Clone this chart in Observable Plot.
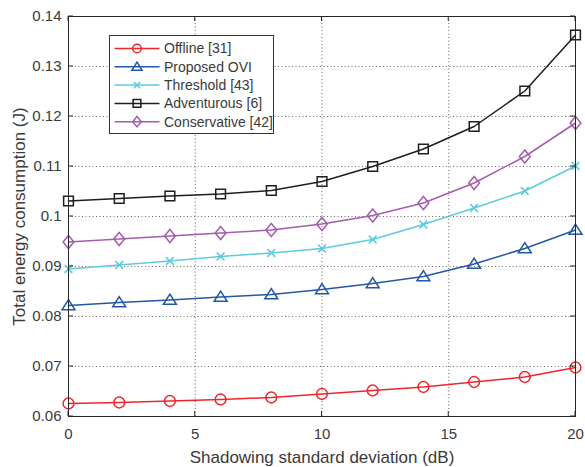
<!DOCTYPE html>
<html><head><meta charset="utf-8">
<script src="https://cdn.jsdelivr.net/npm/d3@7"></script>
<script src="https://cdn.jsdelivr.net/npm/@observablehq/plot@0.6"></script>
<style>body{margin:0;background:#fff}</style>
</head><body><div id="chart"></div>
<script>
// ---- data ----
const sigma = [0, 2, 4, 6, 8, 10, 12, 14, 16, 18, 20];
const offline      = [0.0626, 0.0628, 0.0631, 0.0634, 0.0638, 0.0645, 0.0652, 0.0659, 0.0669, 0.0679, 0.0698];
const proposedOVI  = [0.0822, 0.0828, 0.0833, 0.0839, 0.0844, 0.0854, 0.0866, 0.0880, 0.0905, 0.0936, 0.0973];
const threshold    = [0.0895, 0.0903, 0.0911, 0.0920, 0.0927, 0.0936, 0.0954, 0.0984, 0.1017, 0.1051, 0.1101];
const adventurous  = [0.1031, 0.1036, 0.1041, 0.1045, 0.1052, 0.1070, 0.1100, 0.1135, 0.1180, 0.1251, 0.1363];
const conservative = [0.0949, 0.0955, 0.0961, 0.0967, 0.0973, 0.0985, 0.1002, 0.1027, 0.1067, 0.1120, 0.1187];
const seriesNames  = ["Offline [31]", "Proposed OVI", "Threshold [43]", "Adventurous [6]", "Conservative [42]"];
const xTicks = [0, 5, 10, 15, 20];
const yTicks = [0.06, 0.07, 0.08, 0.09, 0.1, 0.11, 0.12, 0.13, 0.14];
const xLabel = "Shadowing standard deviation (dB)";
const yLabel = "Total energy consumption (J)";

// ---- styles ----
const colors = ["#ee262c", "#2457a6", "#5ccbdb", "#1e1e1e", "#a45cad"];
const rad = s => Math.sqrt(s / Math.PI);
const symCircle = {draw(c, s) { const r = rad(s); c.moveTo(r, 0); c.arc(0, 0, r, 0, 2 * Math.PI); }};
const symTriangle = {draw(c, s) { const r = rad(s); c.moveTo(0, -r * 1.1); c.lineTo(r * 1.2, r * 0.8); c.lineTo(-r * 1.2, r * 0.8); c.closePath(); }};
const symTimes = {draw(c, s) { const r = rad(s) * 0.72; c.moveTo(-r, -r); c.lineTo(r, r); c.moveTo(r, -r); c.lineTo(-r, r); }};
const symSquare = {draw(c, s) { const r = rad(s) * 0.9; c.rect(-r, -r, 2 * r, 2 * r); }};
const symDiamond = {draw(c, s) { const r = rad(s); c.moveTo(0, -r * 1.2); c.lineTo(r, 0); c.lineTo(0, r * 1.2); c.lineTo(-r, 0); c.closePath(); }};
const symbols = [symCircle, symTriangle, symTimes, symSquare, symDiamond];

const allSeries = [offline, proposedOVI, threshold, adventurous, conservative];
const data = allSeries.flatMap((vals, i) => sigma.map((x, j) => ({x, y: vals[j], k: i})));
const marks = [];
allSeries.forEach((vals, i) => {
  const d = data.filter(p => p.k === i);
  marks.push(Plot.line(d, {x: "x", y: "y", stroke: colors[i], strokeWidth: 1.5}));
  marks.push(Plot.dot(d, {x: "x", y: "y", stroke: colors[i], strokeWidth: 1.5, fill: "none", r: 5.4, symbol: () => symbols[i]}));
});
const fmt = d => String(+d.toFixed(2));

const plot = Plot.plot({
  width: 585, height: 467,
  marginLeft: 68, marginRight: 10, marginTop: 16, marginBottom: 51,
  style: {fontFamily: "'Liberation Sans', Arial, Helvetica, sans-serif", fontSize: "15px", color: "#3a3a3a", background: "#fff", overflow: "visible"},
  x: {domain: [0, 20], label: null},
  y: {domain: [0.06, 0.14], label: null},
  marks: [
    Plot.gridX(xTicks, {stroke: "#666", strokeOpacity: 1, strokeWidth: 1, strokeDasharray: "1,2.5"}),
    Plot.gridY(yTicks, {stroke: "#666", strokeOpacity: 1, strokeWidth: 1, strokeDasharray: "1,2.5"}),
    Plot.axisX(xTicks, {anchor: "bottom", tickSize: 0, tickPadding: 12, tickFormat: d => String(d), label: null, fontSize: 15}),
    Plot.axisY(yTicks, {anchor: "left", tickSize: 0, tickPadding: 7, tickFormat: fmt, label: null, fontSize: 15}),
    ...marks,
    Plot.frame({stroke: "#262626", strokeWidth: 1}),
    Plot.text([xLabel], {text: d => d, frameAnchor: "bottom", textAnchor: "middle", lineAnchor: "middle", dy: 41, fontSize: 17, fill: "#3a3a3a"}),
    Plot.text([yLabel], {text: d => d, frameAnchor: "left", textAnchor: "middle", lineAnchor: "middle", rotate: -90, dx: -49, fontSize: 17, fill: "#3a3a3a"})
  ]
});
const svg = d3.select(plot);
const xs = plot.scale("x"), ys = plot.scale("y");
const tg = svg.append("g").attr("stroke", "#262626").attr("stroke-width", 1);
xTicks.forEach(t => {
  const px = xs.apply(t);
  tg.append("line").attr("x1", px).attr("x2", px).attr("y1", ys.apply(0.06)).attr("y2", ys.apply(0.06) - 5);
  tg.append("line").attr("x1", px).attr("x2", px).attr("y1", ys.apply(0.14)).attr("y2", ys.apply(0.14) + 5);
});
yTicks.forEach(t => {
  const py = ys.apply(t);
  tg.append("line").attr("y1", py).attr("y2", py).attr("x1", xs.apply(0)).attr("x2", xs.apply(0) + 5);
  tg.append("line").attr("y1", py).attr("y2", py).attr("x1", xs.apply(20)).attr("x2", xs.apply(20) - 5);
});

// legend
const lg = svg.append("g").attr("transform", "translate(109.5,35.5)").attr("text-anchor", "start");
lg.append("rect").attr("width", 164).attr("height", 98).attr("fill", "#fff").attr("stroke", "#333").attr("stroke-width", 1);
seriesNames.forEach((name, i) => {
  const cy = 13 + i * 18.3;
  lg.append("line").attr("x1", 5).attr("x2", 50).attr("y1", cy).attr("y2", cy).attr("stroke", colors[i]).attr("stroke-width", 1.5);
  lg.append("path").attr("transform", `translate(27.5,${cy})`).attr("d", d3.symbol(symbols[i], 4.3 * 4.3 * Math.PI)())
    .attr("fill", "none").attr("stroke", colors[i]).attr("stroke-width", 1.5);
  lg.append("text").attr("x", 54.5).attr("y", cy).attr("dy", "0.35em").attr("font-size", 14).attr("fill", "#3a3a3a").attr("text-anchor", "start").text(name);
});
document.getElementById("chart").appendChild(plot);
</script></body></html>
